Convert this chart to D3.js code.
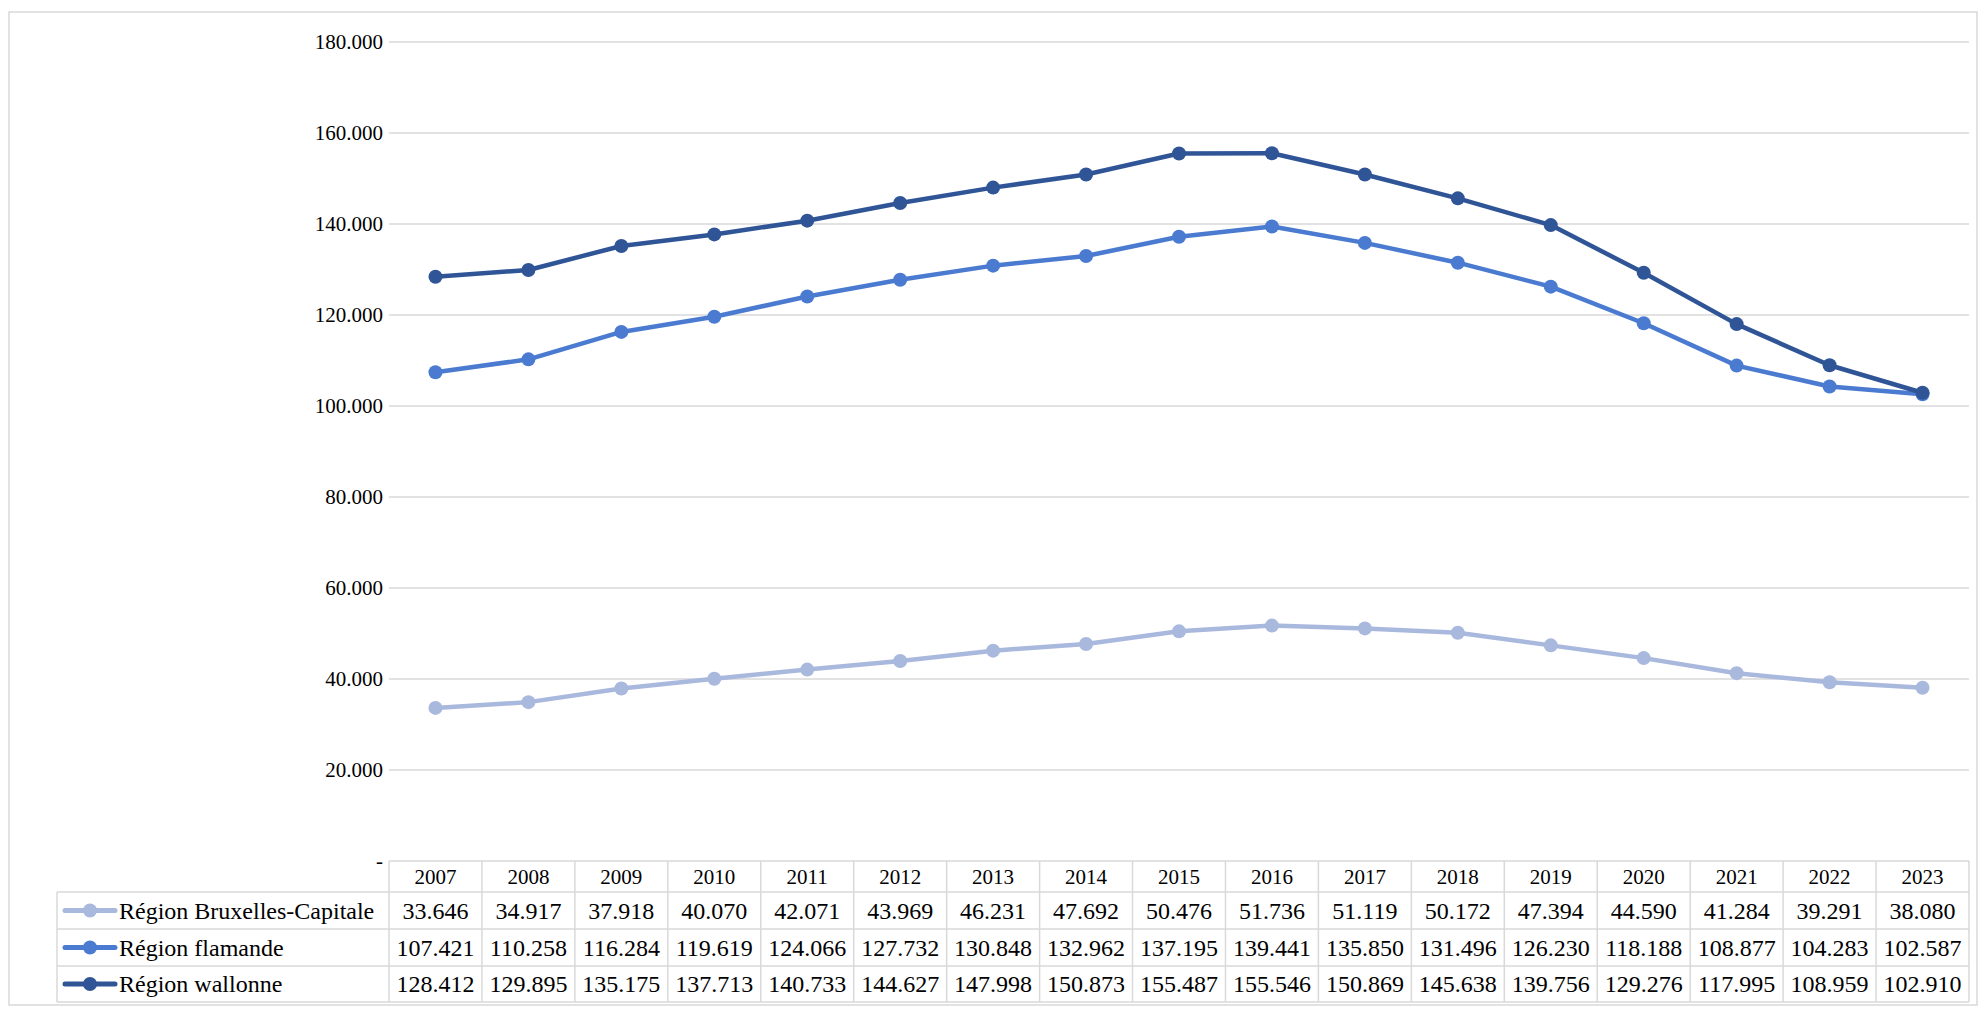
<!DOCTYPE html>
<html>
<head>
<meta charset="utf-8">
<script src="https://cdn.jsdelivr.net/npm/d3@7"></script>
<style>
body { margin: 0; background: #fff; }
text { font-family: "Liberation Serif", "Times New Roman", serif; fill: #000; }
</style>
</head>
<body>
<svg id="chart" width="1982" height="1010"></svg>
<script>
var years = ['2007','2008','2009','2010','2011','2012','2013','2014','2015','2016','2017','2018','2019','2020','2021','2022','2023'];
var bruxelles = [33646,34917,37918,40070,42071,43969,46231,47692,50476,51736,51119,50172,47394,44590,41284,39291,38080];
var flamande = [107421,110258,116284,119619,124066,127732,130848,132962,137195,139441,135850,131496,126230,118188,108877,104283,102587];
var wallonne = [128412,129895,135175,137713,140733,144627,147998,150873,155487,155546,150869,145638,139756,129276,117995,108959,102910];
var seriesNames = ['Région Bruxelles-Capitale','Région flamande','Région wallonne'];
var colors = ['#a9b8dd','#4a7bd0','#2f5597'];
var yTicks = [0,20000,40000,60000,80000,100000,120000,140000,160000,180000];

(function () {
var series = [bruxelles, flamande, wallonne];
var svg = d3.select('#chart');
var pLeft = 389, pRight = 1969, pTop = 42, pBottom = 861;
var rowH = [31, 37, 37, 36];
var tableLeft = 57;

var x = d3.scaleBand().domain(years).range([pLeft, pRight]);
var y = d3.scaleLinear().domain([0, 180000]).range([pBottom, pTop]);
var fmt = function (v) { return v === 0 ? '-' : d3.format(',.0f')(v).replace(/,/g, '.'); };

// outer border
svg.append('rect').attr('x', 9).attr('y', 12).attr('width', 1968).attr('height', 993)
	.attr('fill', 'none').attr('stroke', '#d9d9d9').attr('stroke-width', 1.5);

// gridlines
svg.selectAll('.grid').data(yTicks.slice(1)).enter().append('line')
	.attr('x1', pLeft).attr('x2', pRight)
	.attr('y1', function (d) { return y(d); }).attr('y2', function (d) { return y(d); })
	.attr('stroke', '#d9d9d9').attr('stroke-width', 1.5);

svg.selectAll('.ylab').data(yTicks).enter().append('text')
	.attr('x', pLeft - 6).attr('y', function (d) { return y(d) + 7; })
	.attr('text-anchor', 'end').style('font-size', '21px')
	.text(fmt);

// lines
var line = d3.line().x(function (d, i) { return x(years[i]) + x.bandwidth() / 2; }).y(function (d) { return y(d); });
series.forEach(function (s, k) {
	svg.append('path').datum(s).attr('d', line).attr('fill', 'none')
		.attr('stroke', colors[k]).attr('stroke-width', 4.5).attr('stroke-linejoin', 'round');
	svg.selectAll('.pt' + k).data(s).enter().append('circle')
		.attr('cx', function (d, i) { return x(years[i]) + x.bandwidth() / 2; })
		.attr('cy', function (d) { return y(d); })
		.attr('r', 7).attr('fill', colors[k]);
});

// data table
var g = svg.append('g').attr('stroke', '#d9d9d9').attr('stroke-width', 1.5);
var rowY = [pBottom];
rowH.forEach(function (h) { rowY.push(rowY[rowY.length - 1] + h); });
g.append('line').attr('x1', pLeft).attr('x2', pRight).attr('y1', rowY[0]).attr('y2', rowY[0]);
for (var r = 1; r < rowY.length; r++) {
	g.append('line').attr('x1', tableLeft).attr('x2', pRight).attr('y1', rowY[r]).attr('y2', rowY[r]);
}
g.append('line').attr('x1', tableLeft).attr('x2', tableLeft).attr('y1', rowY[1]).attr('y2', rowY[4]);
years.forEach(function (yr) {
	g.append('line').attr('x1', x(yr)).attr('x2', x(yr)).attr('y1', rowY[0]).attr('y2', rowY[4]);
});
g.append('line').attr('x1', pRight).attr('x2', pRight).attr('y1', rowY[0]).attr('y2', rowY[4]);

svg.selectAll('.yr').data(years).enter().append('text')
	.attr('x', function (d) { return x(d) + x.bandwidth() / 2; })
	.attr('y', (rowY[0] + rowY[1]) / 2 + 7)
	.attr('text-anchor', 'middle').style('font-size', '21px').text(function (d) { return d; });

series.forEach(function (s, k) {
	var cy = (rowY[k + 1] + rowY[k + 2]) / 2;
	svg.append('line').attr('x1', tableLeft + 8).attr('x2', tableLeft + 58).attr('y1', cy).attr('y2', cy)
		.attr('stroke', colors[k]).attr('stroke-width', 5).attr('stroke-linecap', 'round');
	svg.append('circle').attr('cx', tableLeft + 33).attr('cy', cy).attr('r', 7).attr('fill', colors[k]);
	svg.append('text').attr('x', tableLeft + 62).attr('y', cy + 8).style('font-size', '24px').text(seriesNames[k]);
	svg.selectAll('.v' + k).data(s).enter().append('text')
		.attr('x', function (d, i) { return x(years[i]) + x.bandwidth() / 2; })
		.attr('y', cy + 8).attr('text-anchor', 'middle').style('font-size', '24px')
		.text(fmt);
});
})();
</script>
</body>
</html>
